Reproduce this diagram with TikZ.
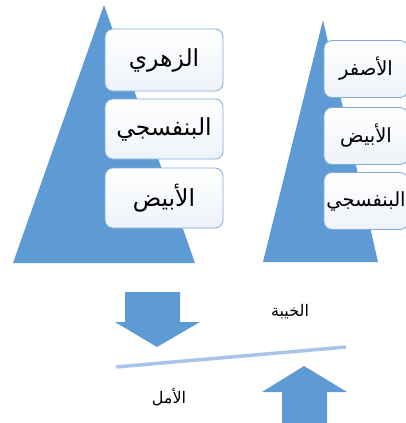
\documentclass[tikz,border=0pt]{standalone}
\usepackage{fontspec}
\newfontfamily\arabicfont[Script=Arabic]{DejaVu Sans}
\TeXXeTstate=1
\definecolor{triblue}{RGB}{94,155,213}
\definecolor{boxedge}{RGB}{128,170,218}
\definecolor{boxfill}{RGB}{238,243,250}
\definecolor{linecol}{RGB}{168,196,232}
\begin{document}
\begin{tikzpicture}[x=1pt,y=-1pt,
  box/.style={draw=boxedge,line width=0.8pt,rounded corners=8pt,top color=white,bottom color=boxfill,
    minimum width=#1,inner sep=0pt,font=\arabicfont},
  bigtxt/.style={font=\arabicfont\fontsize{23.5}{26}\selectfont},
  smalltxt/.style={font=\arabicfont\fontsize{19.5}{22}\selectfont},
  lbl/.style={font=\arabicfont\fontsize{16}{18}\selectfont,inner sep=0pt}]
\useasboundingbox (0,0) rectangle (406,423);
% triangles
\fill[triblue] (104,5) -- (195,263) -- (13,263) -- cycle;
\fill[triblue] (323,20) -- (378,262) -- (263,262) -- cycle;
% left boxes
\node[box=118pt,minimum height=62pt,bigtxt] (l1) at (164,60) {\beginR الزهري\endR};
\node[box=118pt,minimum height=60pt,bigtxt] (l2) at (164,129) {\beginR البنفسجي\endR};
\node[box=118pt,minimum height=60pt,bigtxt] (l3) at (164,198) {\beginR الأبيض\endR};
% right boxes
\node[box=84pt,minimum height=57pt,smalltxt] (r1) at (366,69) {\beginR الأصفر\endR};
\node[box=84pt,minimum height=57pt,smalltxt] (r2) at (366,136) {\beginR الأبيض\endR};
\node[box=84pt,minimum height=57pt,smalltxt] (r3) at (366,201) {\beginR البنفسجي\endR};
% arrows
\fill[triblue] (125,292) -- (180,292) -- (180,322) -- (200,322) -- (157,347) -- (115,322) -- (125,322) -- cycle;
\fill[triblue] (282,423) -- (282,392) -- (262,392) -- (304,366) -- (347,392) -- (327,392) -- (327,423) -- cycle;
% balance line
\coordinate (la) at (116,367);
\coordinate (lb) at (346,347);
\draw[linecol,line width=3.5pt] (la) -- (lb);
% labels
\node[lbl] (t1) at (290,312) {\beginR الخيبة\endR};
\node[lbl] (t2) at (169,397) {\beginR الأمل\endR};
\end{tikzpicture}
\end{document}
